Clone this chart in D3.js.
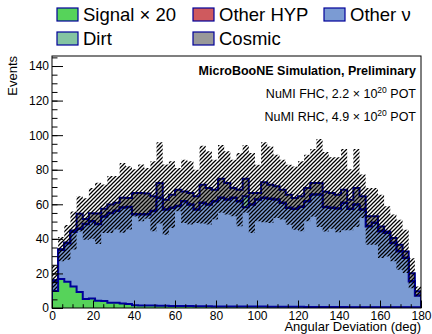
<!DOCTYPE html>
<html><head><meta charset="utf-8">
<script src="https://cdn.jsdelivr.net/npm/d3@7"></script>
<style>body{margin:0;background:#fff} svg{display:block} text{font-family:"Liberation Sans",Arial,Helvetica,sans-serif;fill:#000}</style>
</head><body><svg id="c" width="432" height="334"></svg>
<script>
// ---- data (60 bins of 3 deg) ----
const xRange = [0, 180];
const nBins = 60;
const signalX20 = [9.8,16.8,15.2,12.5,9.3,5.2,5.5,4.2,4.0,3.1,3.0,2.6,2.3,1.6,1.5,1.4,1.4,1.3,1.3,1.2,1.2,1.1,1.1,1.0,1.0,1.0,0.9,0.9,0.9,0.9,0.8,0.8,0.8,0.8,0.8,0.7,0.7,0.7,0.7,0.7,0.7,0.6,0.6,0.6,0.6,0.6,0.6,0.6,0.5,0.5,0.5,0.5,0.5,0.5,0.5,0.5,0.5,0.4,0.4,0.4];
const otherHYP = [0.1,0.2,0.2,0.2,0.2,0.2,0.2,0.2,0.2,0.2,0.2,0.2,0.2,0.2,0.2,0.2,0.2,0.2,0.2,0.2,0.2,0.2,0.2,0.2,0.2,0.2,0.2,0.2,0.2,0.2,0.2,0.2,0.2,0.2,0.2,0.2,0.2,0.2,0.2,0.2,0.2,0.2,0.2,0.2,0.2,0.2,0.2,0.2,0.2,0.2,0.2,0.2,0.2,0.2,0.2,0.2,0.2,0.2,0.1,0.1];
const otherNu = [15,32.5,36.4,43.2,45,48,49.5,48,52.4,54.5,55.7,57.6,58,53.8,53.8,53.8,55.7,63.4,56.6,57.6,58.6,61.4,59.5,56.6,60.5,59.5,61.4,63.4,62.4,63.4,61.4,58.1,59.5,62.4,63.4,62.8,62.4,60.5,57.6,57,58.2,61.4,65.3,65.3,58,57.6,57.2,60.5,57,59.5,56.6,47,49,44.1,43.2,37.3,32.5,28.7,15.2,7];
const dirt = [0.3,0.3,0.3,0.3,0.3,0.3,0.3,0.3,0.3,0.3,0.3,0.3,0.3,0.3,0.3,0.3,0.3,0.3,0.3,0.3,0.3,0.3,0.3,0.3,0.3,0.3,0.3,0.3,0.3,0.3,0.3,6.3,0.3,0.3,0.3,0.3,0.3,0.3,0.3,0.3,0.3,0.3,0.3,0.3,0.3,0.3,0.3,0.3,0.3,0.3,0.3,0.3,0.3,0.3,0.3,0.3,0.3,0.3,0.3,0.3];
const cosmic = [0.2,0.2,0.3,0.5,8.5,2.7,4.5,6.0,4.3,4.7,4.5,5.5,5.1,12.2,12.2,11.9,8.4,8.4,5.5,7.4,9.3,5.5,6.5,7.5,10.3,9.4,6.5,10.8,9.4,5.5,6.5,10.1,6.5,3.6,8.8,8.0,7.5,7.4,7.4,6.1,5.9,7.5,6.5,6.5,8.7,8.4,7.8,7.4,5.1,9.4,7.5,5.5,3.5,2.6,0.6,2.7,3.6,3.5,4.5,2.2];
const uncertainty = [8.5,7,10,11,10.2,12,14.7,17.7,14,16.5,15.5,20.2,18.3,13.7,16.4,14.7,20.2,23.5,20.3,19.3,12.5,18.3,18.3,15.4,22.5,21.2,17.3,19.6,18.3,16.3,21.2,19.6,23.1,16.4,23.1,22.1,18.3,17.3,17.4,18.3,20.2,19.3,19.6,25.4,23,20.7,21.7,23.5,17.6,22.5,12.6,16.4,16.4,18.3,14.5,13.5,14.5,12.5,8.7,2.8];
const xTicks = [0,20,40,60,80,100,120,140,160,180];
const yTicks = [0,20,40,60,80,100,120,140];
const legendLabels = ["Signal \u00d7 20","Other HYP","Other \u03bd","Dirt","Cosmic"];
const colors = {signal:"#56d35a", hyp:"#cf5a5e", nu:"#7b9bd3", dirt:"#84c4a2", cosmic:"#999999", line:"#000099"};

// ---- layout ----
const L = 52, R = 421, T = 56, B = 308;
const svg = d3.select("#c");
const x = d3.scaleLinear().domain(xRange).range([L, R]);
const y = d3.scaleLinear().domain([0, 145.8]).range([B, T]);
const bw = (xRange[1]-xRange[0])/nBins;
const edges = d3.range(nBins+1).map(i => xRange[0] + i*bw);

svg.append("rect").attr("width",432).attr("height",334).attr("fill","#fff");
svg.append("clipPath").attr("id","clip").append("rect").attr("x",L).attr("y",T).attr("width",R-L).attr("height",B-T);

const defs = svg.append("defs");
const pat = defs.append("pattern").attr("id","hatch").attr("patternUnits","userSpaceOnUse").attr("width",4).attr("height",4);
pat.append("path").attr("d","M-1,1 l2,-2 M0,4 l4,-4 M3,5 l2,-2").attr("stroke","#000").attr("stroke-width",1.25);

const g = svg.append("g").attr("clip-path","url(#clip)");

function stepPts(vals){
  const pts=[];
  vals.forEach((v,i)=>{pts.push([edges[i],v]);pts.push([edges[i+1],v]);});
  return pts;
}
const area = d3.area().x(d=>x(d[0])).y0(y(0)).y1(d=>y(d[1]));
const line = d3.line().x(d=>x(d[0])).y(d=>y(d[1]));

function drawHist(vals, fill){
  const pts = stepPts(vals);
  g.append("path").attr("d", area(pts)).attr("fill", fill);
  g.append("path").attr("d", line([[xRange[0],0],...pts,[xRange[1],0]]))
    .attr("fill","none").attr("stroke",colors.line).attr("stroke-width",2);
}

// cumulative stack
const sigReal = signalX20.map(v=>v/20);
const c1 = sigReal;
const c2 = c1.map((v,i)=>v+otherHYP[i]);
const c3 = c2.map((v,i)=>v+otherNu[i]);
const c4 = c3.map((v,i)=>v+dirt[i]);
const c5 = c4.map((v,i)=>v+cosmic[i]);
drawHist(c5, colors.cosmic);
drawHist(c4, colors.dirt);
drawHist(c3, colors.nu);
drawHist(c2, colors.hyp);
drawHist(c1, colors.signal);

// error band
const band = [];
c5.forEach((v,i)=>{
  const lo=Math.max(0,v-uncertainty[i]), hi=v+uncertainty[i];
  band.push({x:edges[i],lo,hi}); band.push({x:edges[i+1],lo,hi});
});
g.append("path").attr("d", d3.area().x(d=>x(d.x)).y0(d=>y(d.lo)).y1(d=>y(d.hi))(band)).attr("fill","url(#hatch)");

// signal x20 overlay
drawHist(signalX20, colors.signal);

// ---- axes ----
const tickStyle = sel => { sel.select(".domain").remove(); sel.selectAll("line").attr("stroke","#000"); sel.selectAll("text").attr("font-size",12).attr("font-family","Liberation Sans, Arial, sans-serif"); };
svg.append("g").attr("transform",`translate(${L},0)`)
  .call(d3.axisLeft(y).tickValues(d3.range(0,146,5)).tickSize(-5.5).tickFormat(""))
  .call(tickStyle);
svg.append("g").attr("transform",`translate(${L},0)`)
  .call(d3.axisLeft(y).tickValues(yTicks).tickSize(-11).tickPadding(3).tickFormat(d3.format("d")))
  .call(tickStyle);
svg.append("g").attr("transform",`translate(0,${B})`)
  .call(d3.axisBottom(x).tickValues(d3.range(0,181,5)).tickSize(-3.8).tickFormat(""))
  .call(tickStyle);
svg.append("g").attr("transform",`translate(0,${B})`)
  .call(d3.axisBottom(x).tickValues(xTicks).tickSize(-7.5).tickPadding(3).tickFormat(d3.format("d")))
  .call(tickStyle);

svg.append("rect").attr("x",L).attr("y",T).attr("width",R-L).attr("height",B-T)
  .attr("fill","none").attr("stroke","#000").attr("stroke-width",1);

// axis titles
svg.append("text").attr("x",R).attr("y",330.5).attr("text-anchor","end").attr("font-size",13).text("Angular Deviation (deg)");
svg.append("text").attr("transform","translate(17,56) rotate(-90)").attr("text-anchor","end").attr("font-size",13).text("Events");

// labels in plot
svg.append("text").attr("x",416).attr("y",75).attr("text-anchor","end").attr("font-size",12.5).attr("font-weight","bold").text("MicroBooNE Simulation, Preliminary");
function potLine(yy, pre){
  const t = svg.append("text").attr("x",416).attr("y",yy).attr("text-anchor","end").attr("font-size",12.5);
  t.append("tspan").text(pre);
  t.append("tspan").attr("font-size",8.5).attr("dy",-5).text("20");
  t.append("tspan").attr("dy",5).text(" POT");
}
potLine(98, "NuMI FHC, 2.2 \u00d7 10");
potLine(121, "NuMI RHC, 4.9 \u00d7 10");

// legend
const legCols = [57,193,324], legRows = [8,32];
const legFill = [colors.signal, colors.hyp, colors.nu, colors.dirt, colors.cosmic];
legendLabels.forEach((lab,i)=>{
  const cx = legCols[i%3], ry = legRows[Math.floor(i/3)];
  svg.append("rect").attr("x",cx).attr("y",ry).attr("width",21).attr("height",13)
    .attr("fill",legFill[i]).attr("stroke",colors.line).attr("stroke-width",1.2);
  svg.append("text").attr("x",cx+26).attr("y",ry+12.5).attr("font-size",18.5).text(lab);
});
</script></body></html>
